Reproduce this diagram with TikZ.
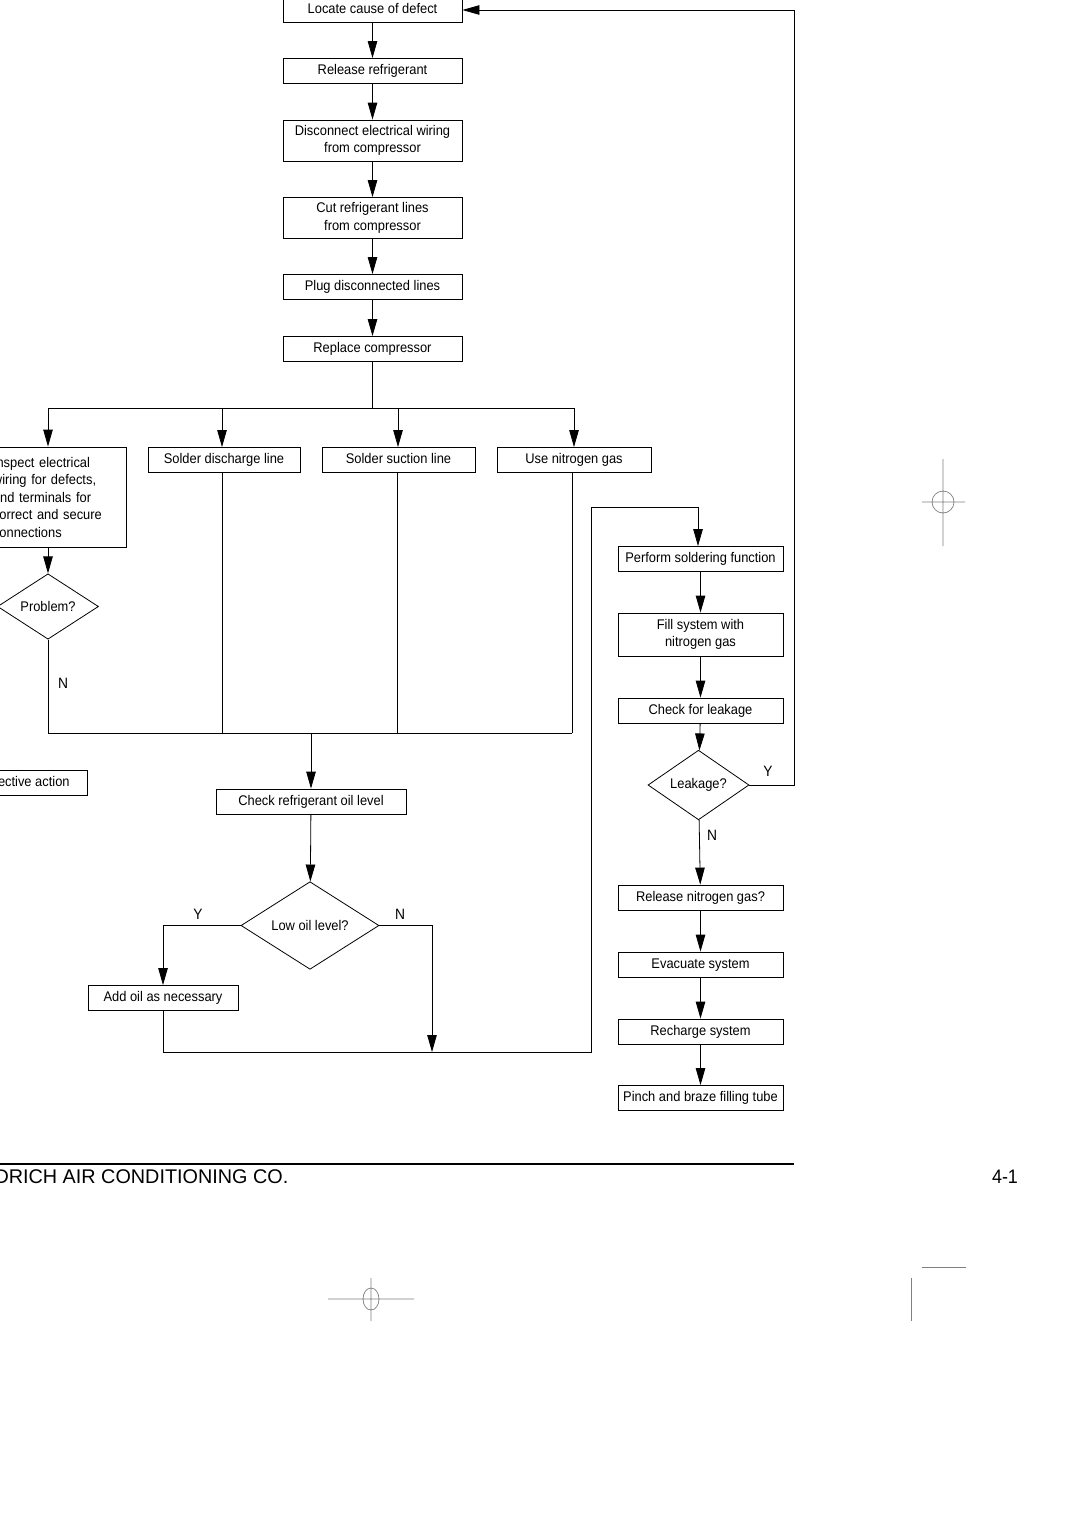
\documentclass[tikz,border=0pt]{standalone}
\usepackage{fontspec}
\setmainfont{Liberation Sans}[FakeStretch=0.92]
\newfontfamily\footfont{Liberation Sans}
\usetikzlibrary{shapes.geometric,arrows.meta}

\begin{document}
\begin{tikzpicture}[x=1pt,y=-1pt,
    line width=0.8pt,
    every node/.style={font=\fontsize{14}{17.5}\selectfont},
    stepbox/.style={draw,inner sep=2pt,minimum height=25pt,align=center},
    onebox/.style={stepbox,text height=10.5pt,text depth=3pt},
    askbox/.style={draw,diamond,inner sep=0pt},
    branchlabel/.style={font=\fontsize{15}{15}\selectfont},
    arr/.style={-{Triangle[length=17pt,width=9.5pt]}},
    regmark/.style={gray,line width=0.7pt}]
  \useasboundingbox (0,0) rectangle (1080,1528);
  \clip (0,0) rectangle (1080,1528);

  % main column
  \draw
    (372.5,10) node[onebox,minimum width=179pt] (locate){Locate cause of defect}
    (372.5,71) node[onebox,minimum width=179pt] (release){Release refrigerant}
    (372.5,140.5) node[stepbox,minimum width=179pt,minimum height=41pt] (disconnect){Disconnect electrical wiring\\from compressor}
    (372.5,218) node[stepbox,minimum width=179pt,minimum height=41pt] (cut){Cut refrigerant lines\\from compressor}
    (372.5,287) node[onebox,minimum width=179pt] (plug){Plug disconnected lines}
    (372.5,349) node[onebox,minimum width=179pt] (replace){Replace compressor};

  % four branches
  \draw
    (48,497) node[draw,text width=110pt,inner xsep=23pt,inner ysep=4pt,minimum height=100pt,align=left] (inspect){Inspect electrical\\wiring for defects,\\and terminals for\\correct and secure\\connections}
    (224,460) node[onebox,minimum width=152pt] (discharge){Solder discharge line}
    (398.5,460) node[onebox,minimum width=153pt] (suction){Solder suction line}
    (574,460) node[onebox,minimum width=154pt] (nitrogen){Use nitrogen gas}
    (48,606.5) node[askbox,minimum width=101pt,minimum height=56pt] (problem){Problem?}
    (88,782.5) node[onebox,anchor=east,inner xsep=18pt] (action){Take corrective action};

  % oil check
  \draw
    (311,801.5) node[onebox,minimum width=190pt] (oil){Check refrigerant oil level}
    (310,925.5) node[askbox,minimum width=138pt,minimum height=87pt] (lowoil){Low oil level?}
    (163,998) node[onebox,minimum width=150pt] (addoil){Add oil as necessary};

  % right column
  \draw
    (700.5,559) node[onebox,minimum width=165pt] (solder){Perform soldering function}
    (700.5,634.5) node[stepbox,minimum width=165pt,minimum height=43pt] (fill){Fill system with\\nitrogen gas}
    (700.5,710.5) node[onebox,minimum width=165pt] (leakcheck){Check for leakage}
    (698.5,785) node[askbox,minimum width=101pt,minimum height=56pt] (leakage){Leakage?}
    (700.5,897.5) node[onebox,minimum width=165pt] (relnitro){Release nitrogen gas?}
    (700.5,964.5) node[onebox,minimum width=165pt] (evacuate){Evacuate system}
    (700.5,1031.5) node[onebox,minimum width=165pt] (recharge){Recharge system}
    (700.5,1098) node[onebox,minimum width=165pt] (pinch){Pinch and braze filling tube};

  \coordinate (busc) at (372.5,408);
  \coordinate (bus1) at (48,408);
  \coordinate (bus2) at (222,408);
  \coordinate (bus3) at (398,408);
  \coordinate (bus4) at (574,408);
  \coordinate (join1) at (48,733);
  \coordinate (join4) at (572,733);
  \coordinate (joinm) at (311,733);
  \coordinate (lowend) at (432,1052);
  \coordinate (turn1) at (591,1052);
  \coordinate (turn2) at (591,507);
  \coordinate (back) at (794,785);

  \begin{scope}[arr]
    \draw (locate) to (release);
    \draw (release) to (disconnect);
    \draw (disconnect) to (cut);
    \draw (cut) to (plug);
    \draw (plug) to (replace);
    \draw (bus1) to (inspect);
    \draw (bus2) to (bus2 |- discharge.north);
    \draw (bus3) to (bus3 |- suction.north);
    \draw (bus4) to (nitrogen);
    \draw (inspect) to (problem);
    \draw (joinm) to (oil);
    \draw (oil) to (lowoil);
    \draw (lowoil.west) -| (addoil);
    \draw (lowoil.east) -| (lowend);
    \draw (addoil) |- (turn1) -- (turn2) -| (solder.north -| 698,0);
    \draw (solder) to (fill);
    \draw (fill) to (leakcheck);
    \draw (leakcheck) to (leakage);
    \draw (leakage) to (relnitro);
    \draw (relnitro) to (evacuate);
    \draw (evacuate) to (recharge);
    \draw (recharge) to (pinch);
    \draw (leakage.east) -- (back) |- (locate.east);
  \end{scope}
  \begin{scope}[-]
    \draw (replace) to (busc);
    \draw (bus1) to (bus4);
    \draw (problem) to (join1);
    \draw (join1) to (join4);
    \draw (discharge.south -| bus2) to (bus2 |- join1);
    \draw (suction.south -| 397,0) to (397,733);
    \draw (nitrogen.south -| join4) to (join4);
  \end{scope}

  % branch labels
  \node[branchlabel] (pn) at (63,683) {N};
  \node[branchlabel] (ly) at (198,914) {Y};
  \node[branchlabel] (ln) at (400,914) {N};
  \node[branchlabel] (ky) at (768,771) {Y};
  \node[branchlabel] (kn) at (712,835) {N};

  % footer
  \draw[line width=2pt] (0,1164) -- (794,1164);
  \node[anchor=east,font=\footfont\fontsize{19.8}{21}\selectfont] (company) at (292,1177) {FRIEDRICH AIR CONDITIONING CO.};
  \node[font=\fontsize{19.5}{20}\selectfont] (page) at (1005,1177) {4-1};

  % registration marks
  \draw[regmark] (943,459) -- (943,546) (922,502) -- (965,502) (943,502) circle (11);
  \draw[regmark] (371,1278) -- (371,1321) (328,1299) -- (414,1299) (371,1299) ellipse (8 and 11);
  \draw[regmark] (922,1267) -- (966,1267) (911,1278) -- (911,1321);
\end{tikzpicture}
\end{document}
